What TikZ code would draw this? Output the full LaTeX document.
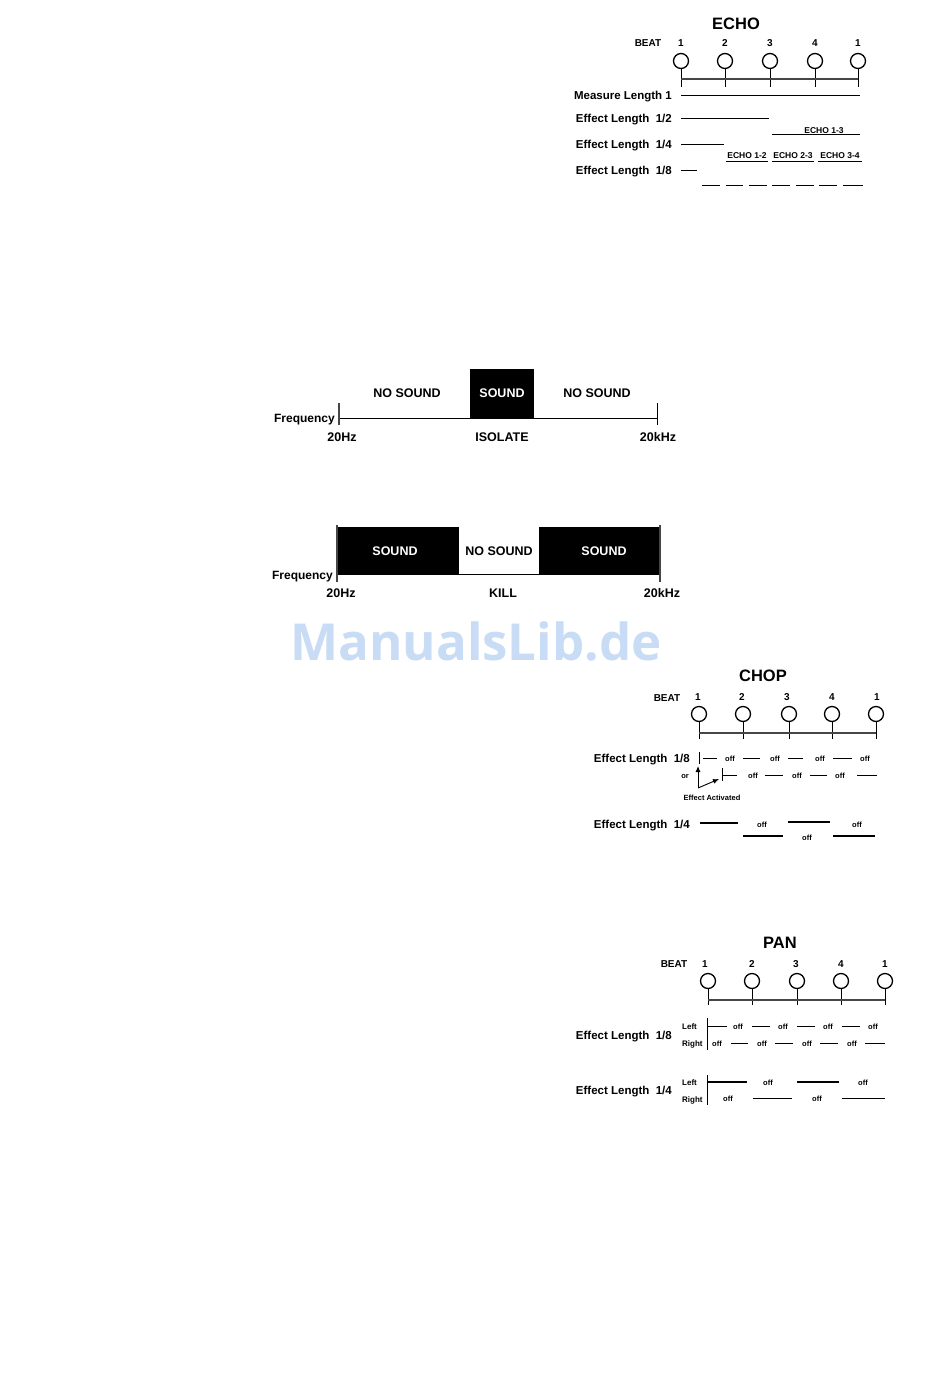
\documentclass[tikz,border=0pt]{standalone}
\usepackage{fontspec}
\setmainfont{Liberation Sans}
\newfontfamily\wmfont{Open Sans}
\usetikzlibrary{arrows.meta}
\newcommand\myfs[1]{\fontsize{#1}{#1}\selectfont}
\definecolor{wm}{RGB}{200,220,245}
\definecolor{tlc}{RGB}{70,70,70}
\tikzset{
  ttl/.style={font=\bfseries\myfs{16.5}, inner sep=0, yshift=-1pt},
  beatlbl/.style={font=\bfseries\myfs{10}, inner sep=0},
  num/.style={font=\bfseries\myfs{10}, inner sep=0},
  lbl/.style={font=\bfseries\myfs{11.5}, inner sep=0, anchor=mid east, yshift=-1.8pt},
  big/.style={font=\bfseries\myfs{12.5}, inner sep=0, anchor=mid, yshift=-1.8pt},
  small/.style={font=\bfseries\myfs{8.5}, inner sep=0, anchor=mid, yshift=-0.8pt},
  tiny/.style={font=\bfseries\myfs{7.5}, inner sep=0, anchor=mid, yshift=-0.6pt},
  lr/.style={font=\bfseries\myfs{8}, inner sep=0, anchor=mid west, yshift=-0.6pt},
  beatc/.style={circle, draw, line width=1.3pt, minimum size=15pt, inner sep=0},
  ln/.style={line width=0.9pt},
  thk/.style={line width=1.6pt},
  tl/.style={line width=1.2pt, draw=tlc},
  blk/.style={fill=black, draw=none, inner sep=0, anchor=north west},
}
\begin{document}
\begin{tikzpicture}[x=1pt,y=-1pt]
\useasboundingbox[fill=white] (0,0) rectangle (950,1389);

% ================= ECHO =================
\node[ttl] (echo) at (736,23) {ECHO};
\node[beatlbl] (ebeat) at (648,43) {BEAT};
\foreach \x/\n/\i in {681/1/a,725/2/b,770/3/c,815/4/d,858/1/e}{
  \node[num] (en\i) at (\x,43) {\n};
  \node[beatc] (ec\i) at (\x,61) {};
  \draw[ln] (ec\i.south) -- (\x,87);
}
\draw[tl] (681,79) -- (858,79);
\node[lbl] (meas) at (672,95) {Measure Length 1};
\draw[ln] (681,95) -- (860,95);
\node[lbl] (e12) at (672,118) {Effect Length\ \ 1/2};
\draw[ln] (681,118) -- (769,118);
\node[small] (echo13) at (824,130) {ECHO 1-3};
\draw[ln] (772,134) -- (860,134);
\node[lbl] (e14) at (672,144) {Effect Length\ \ 1/4};
\draw[ln] (681,144) -- (724,144);
\node[small] (echo12) at (747,155) {ECHO 1-2};
\node[small] (echo23) at (793,155) {ECHO 2-3};
\node[small] (echo34) at (840,155) {ECHO 3-4};
\draw[ln] (726,161) -- (768,161);
\draw[ln] (772,161) -- (814,161);
\draw[ln] (818,161) -- (862,161);
\node[lbl] (e18) at (672,170) {Effect Length\ \ 1/8};
\draw[ln] (681,170) -- (697,170);
\foreach \a/\b in {702/720,726/743,749/767,772/790,796/814,819/837,843/863}{
  \draw[ln] (\a,185) -- (\b,185);
}

% ================= ISOLATE =================
\node[blk, minimum width=64pt, minimum height=49pt] (isobox) at (470,369) {};
\node[big, text=white] (isos) at (502,393) {SOUND};
\node[big] (isons1) at (407,393) {NO SOUND};
\node[big] (isons2) at (597,393) {NO SOUND};
\node[lbl, font=\bfseries\myfs{12}] (isofreq) at (335,418) {Frequency};
\draw[ln] (339,418) -- (657,418);
\draw[line width=1.6pt, draw=tlc] (339,403) -- (339,425);
\draw[ln] (657,403) -- (657,425);
\node[big] (iso20) at (342,437) {20Hz};
\node[big] (isolbl) at (502,437) {ISOLATE};
\node[big] (iso20k) at (658,437) {20kHz};

% ================= KILL =================
\node[blk, minimum width=122pt, minimum height=47pt] (kb1) at (337,527) {};
\node[blk, minimum width=121pt, minimum height=47pt] (kb2) at (539,527) {};
\node[big, text=white] (ks1) at (395,551) {SOUND};
\node[big] (kns) at (499,551) {NO SOUND};
\node[big, text=white] (ks2) at (604,551) {SOUND};
\draw[ln] (337,574) -- (660,574);
\draw[line width=1.4pt, draw=tlc] (337,525) -- (337,582);
\draw[line width=1.4pt, draw=tlc] (660,525) -- (660,582);
\node[lbl, font=\bfseries\myfs{12}] (kfreq) at (333,575) {Frequency};
\node[big] (k20) at (341,593) {20Hz};
\node[big] (klbl) at (503,593) {KILL};
\node[big] (k20k) at (662,593) {20kHz};

% ================= watermark =================
\node[font=\wmfont\bfseries\myfs{51}, text=wm, inner sep=0] (wmark) at (476,641) {ManualsLib.de};

% ================= CHOP =================
\node[ttl] (chop) at (763,675) {CHOP};
\node[beatlbl] (cbeat) at (667,698) {BEAT};
\foreach \x/\c/\n/\i in {698/699/1/a,742/743/2/b,787/789/3/c,832/832/4/d,877/876/1/e}{
  \node[num] (cn\i) at (\x,697) {\n};
  \node[beatc] (cc\i) at (\c,714) {};
  \draw[ln] (cc\i.south) -- (\c,739);
}
\draw[tl] (699,733) -- (876,733);
\node[lbl] (c18) at (690,758) {Effect Length\ \ 1/8};
\draw[ln] (699,752) -- (699,764);
\foreach \a/\b in {703/717,743/760,788/803,833/852}{\draw[ln] (\a,758) -- (\b,758);}
\foreach \x in {730,775,820,865}{\node[tiny] at (\x,758) {off};}
\node[tiny] (cor) at (685,775) {or};
\draw[ln] (722,768) -- (722,781);
\foreach \a/\b in {723/737,765/783,810/827,857/877}{\draw[ln] (\a,775) -- (\b,775);}
\foreach \x in {753,797,840}{\node[tiny] at (\x,775) {off};}
\coordinate (corner) at (698,788);
\coordinate (aup) at (698,766);
\coordinate (aright) at (719,779);
\draw[ln, -{Latex[length=6pt,width=5pt]}] (corner) -- (aup);
\draw[ln, -{Latex[length=6pt,width=5pt]}] (corner) -- (aright);
\node[tiny] (cact) at (712,797) {Effect Activated};
\node[lbl] (c14) at (690,824) {Effect Length\ \ 1/4};
\draw[thk] (700,823) -- (738,823);
\node[tiny] at (762,824) {off};
\draw[thk] (788,822) -- (830,822);
\node[tiny] at (857,824) {off};
\draw[thk] (743,836) -- (783,836);
\node[tiny] at (807,837) {off};
\draw[thk] (833,836) -- (875,836);

% ================= PAN =================
\node[ttl] (pan) at (780,942) {PAN};
\node[beatlbl] (pbeat) at (674,964) {BEAT};
\foreach \x/\c/\n/\i in {705/708/1/a,752/752/2/b,796/797/3/c,841/841/4/d,885/885/1/e}{
  \node[num] (pn\i) at (\x,964) {\n};
  \node[beatc] (pc\i) at (\c,981) {};
  \draw[ln] (pc\i.south) -- (\c,1005);
}
\draw[tl] (708,1000) -- (885,1000);
\node[lbl] (p18) at (672,1035) {Effect Length\ \ 1/8};
\node[lr] (pl1) at (682,1026) {Left};
\node[lr] (pr1) at (682,1043) {Right};
\draw[ln] (707,1018) -- (707,1050);
\foreach \a/\b in {708/727,752/770,797/815,842/860}{\draw[ln] (\a,1026) -- (\b,1026);}
\foreach \x in {738,783,828,873}{\node[tiny] at (\x,1026) {off};}
\foreach \a/\b in {731/748,775/793,820/838,865/885}{\draw[ln] (\a,1043) -- (\b,1043);}
\foreach \x in {717,762,807,852}{\node[tiny] at (\x,1043) {off};}
\node[lbl] (p14) at (672,1090) {Effect Length\ \ 1/4};
\node[lr] (pl2) at (682,1082) {Left};
\node[lr] (pr2) at (682,1099) {Right};
\draw[ln] (707,1075) -- (707,1105);
\draw[thk] (707,1082) -- (747,1082);
\node[tiny] at (768,1082) {off};
\draw[thk] (797,1082) -- (839,1082);
\node[tiny] at (863,1082) {off};
\node[tiny] at (728,1098) {off};
\draw[ln] (753,1098) -- (792,1098);
\node[tiny] at (817,1098) {off};
\draw[ln] (842,1098) -- (885,1098);
\end{tikzpicture}
\end{document}
